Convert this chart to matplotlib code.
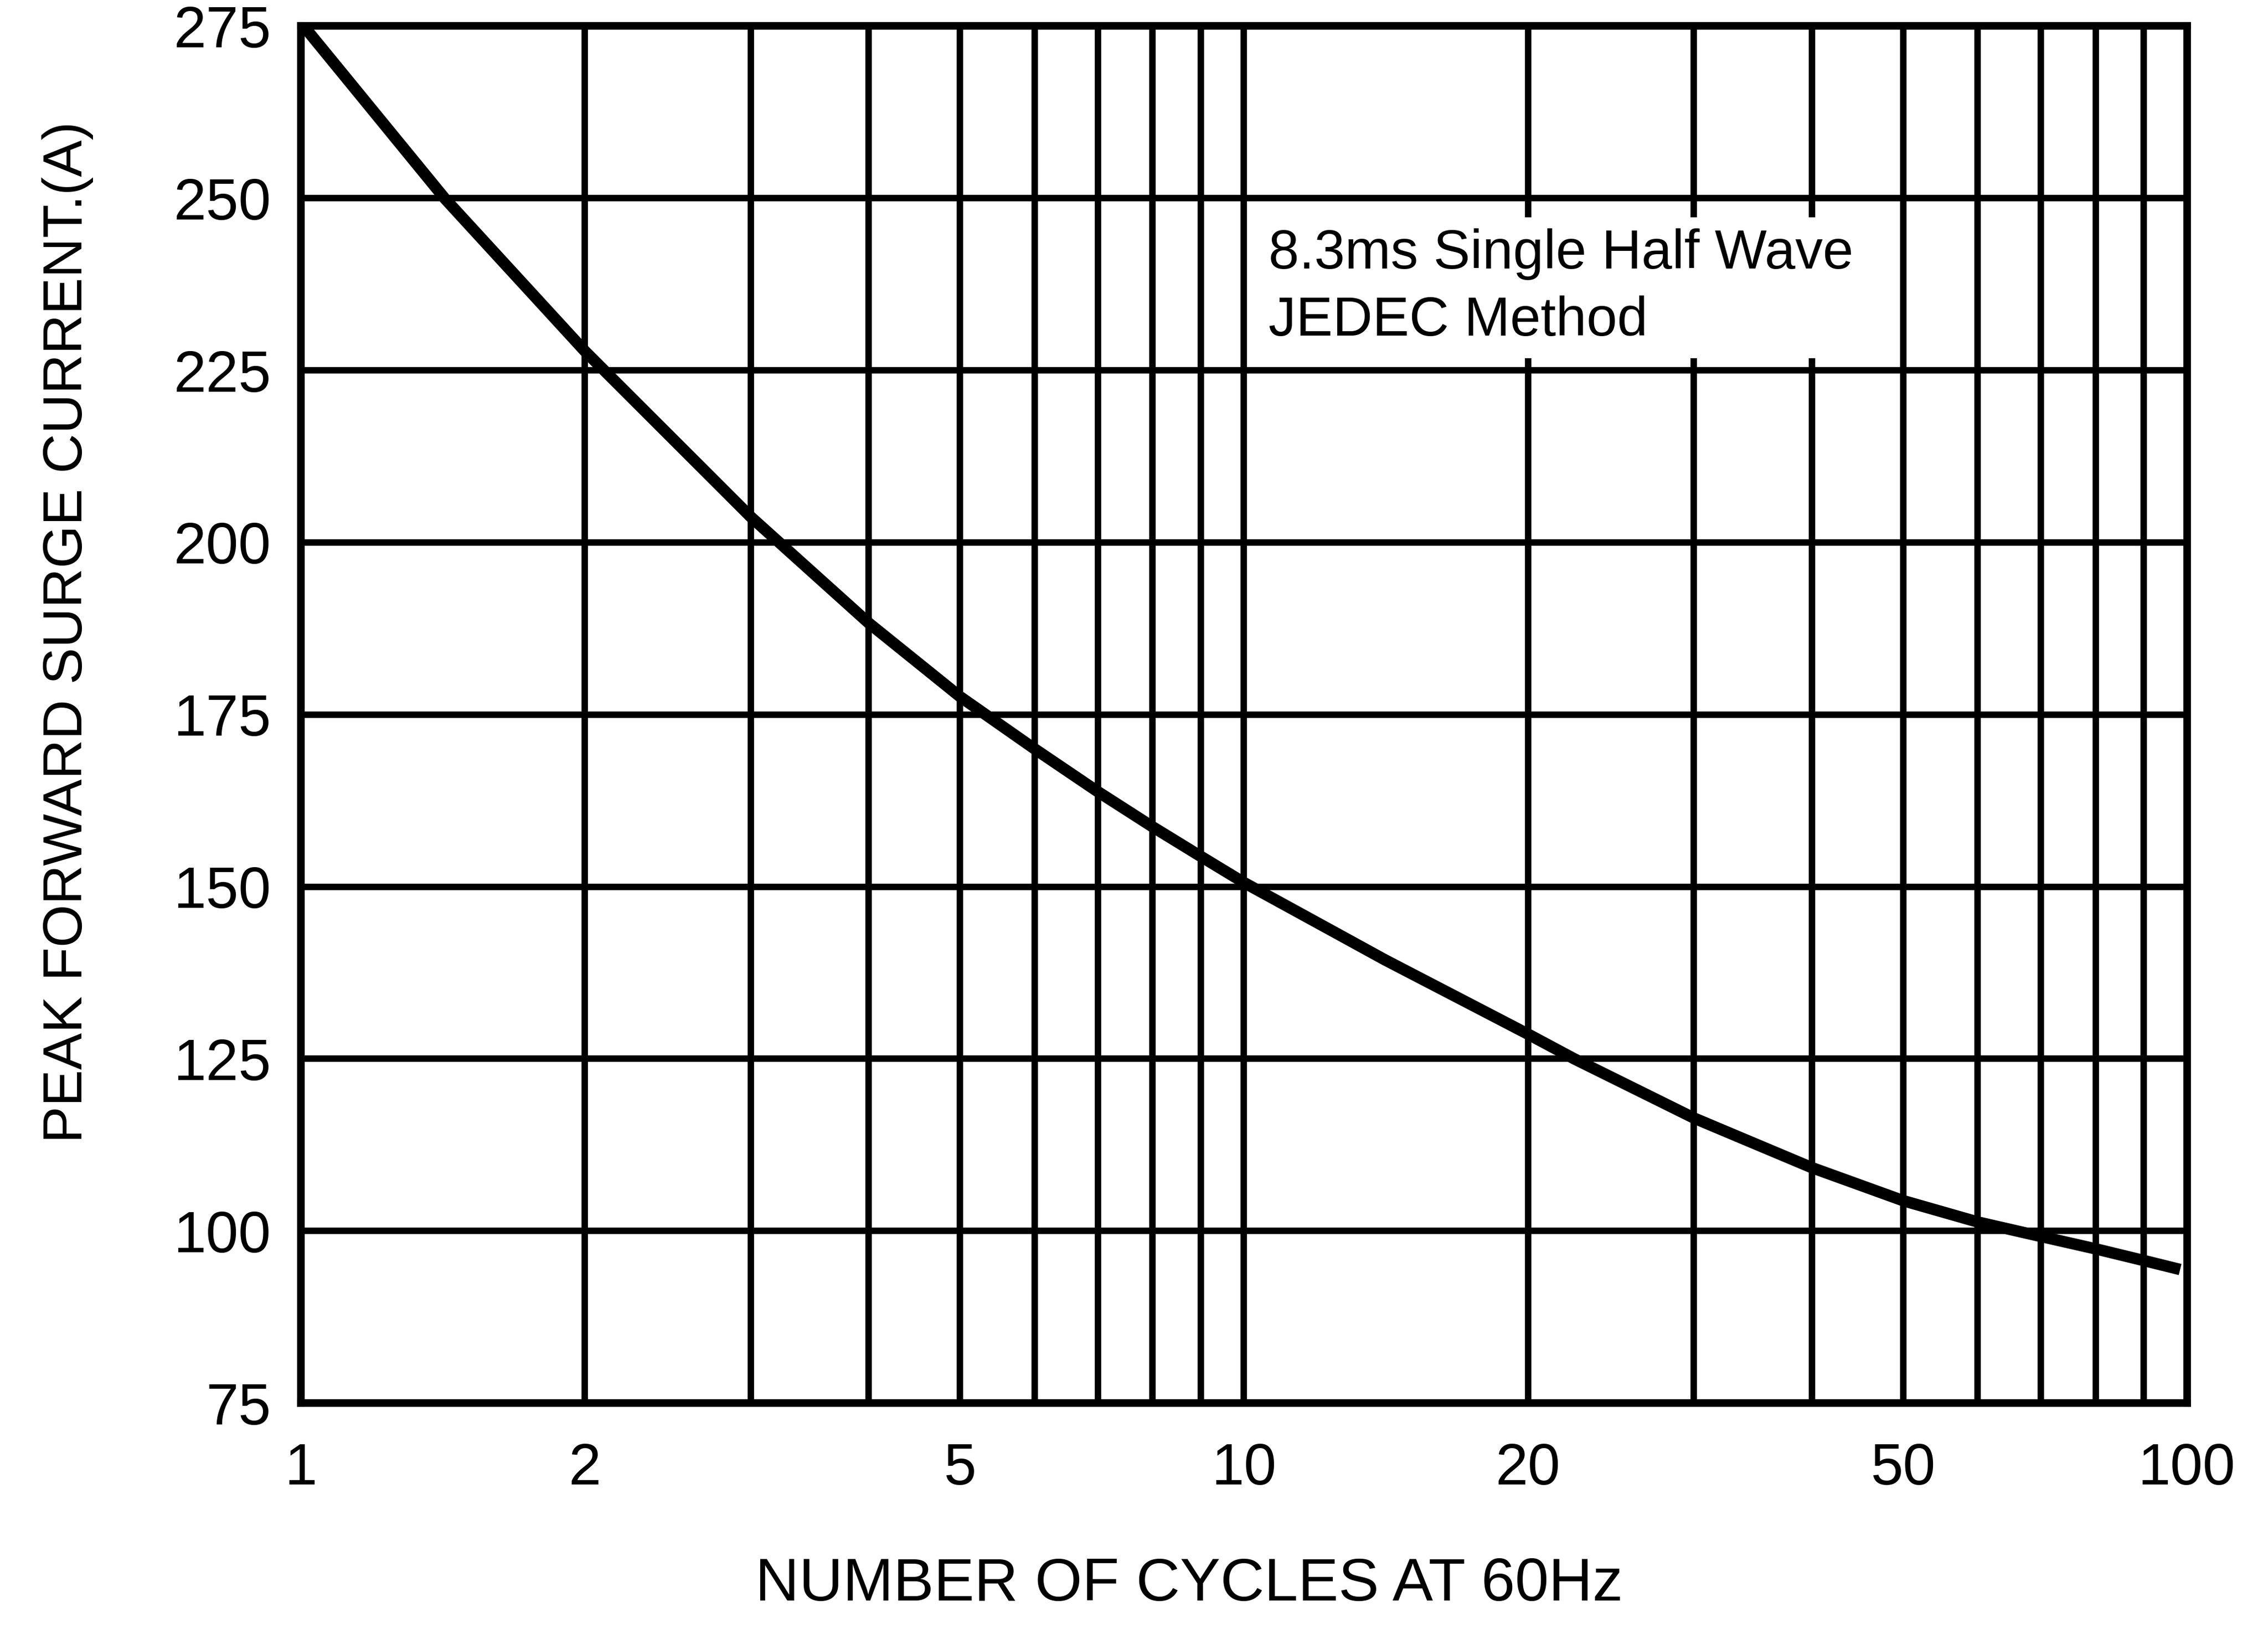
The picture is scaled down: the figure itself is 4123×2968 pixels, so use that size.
import matplotlib
matplotlib.use("Agg")
import matplotlib.pyplot as plt
from matplotlib.ticker import NullFormatter

plt.rcParams['font.family'] = ['Liberation Sans', 'DejaVu Sans']

# curve
cycles = [1, 1.42, 2, 3, 4, 5, 6, 7, 8, 9, 10, 14.1, 20, 22.4, 30, 40, 50, 60, 66, 70, 80, 90, 97]
current = [275.5, 250, 227.8, 203.7, 188.3, 177.6, 170.0, 163.8, 158.7, 154.4, 150.6, 139.4, 128.6, 125.0,
           116.4, 109.2, 104.4, 101.3, 100.0, 99.2, 97.4, 95.7, 94.6]

x_ticks = [1, 2, 5, 10, 20, 50, 100]
x_minor = [3, 4, 6, 7, 8, 9, 30, 40, 60, 70, 80, 90]
y_ticks = [75, 100, 125, 150, 175, 200, 225, 250, 275]

note = "8.3ms Single Half Wave\nJEDEC Method"

fig = plt.figure(figsize=(4123 / 300, 2968 / 300), dpi=300)
ax = fig.add_axes([0.1327, 0.1408, 0.8316, 0.8432])

ax.semilogx(cycles, current, color='black', lw=5.0, zorder=4)

ax.set_xlim(1, 100)
ax.set_ylim(75, 275)
ax.set_xticks(x_ticks)
ax.set_xticklabels([str(v) for v in x_ticks])
ax.set_xticks(x_minor, minor=True)
ax.xaxis.set_minor_formatter(NullFormatter())
ax.set_yticks(y_ticks)

ax.tick_params(which='both', length=0, labelsize=25.5, pad=13)
ax.tick_params(axis='x', pad=17)
ax.grid(which='both', color='black', lw=2.8)
for s in ax.spines.values():
    s.set_linewidth(3.3)

ax.set_xlabel("NUMBER OF CYCLES AT 60Hz", fontsize=26.5)
ax.set_ylabel("PEAK FORWARD SURGE CURRENT.(A)", fontsize=24)
ax.xaxis.set_label_coords(0.471, -0.112)
ax.yaxis.set_label_coords(-0.11, 0.56)

ax.text(0.513, 0.81, note, transform=ax.transAxes, ha='left', va='center',
        fontsize=24, linespacing=1.38, zorder=5,
        bbox=dict(facecolor='white', edgecolor='none', boxstyle='square,pad=0.2'))

fig.savefig("out.png", dpi=300, facecolor='white')
